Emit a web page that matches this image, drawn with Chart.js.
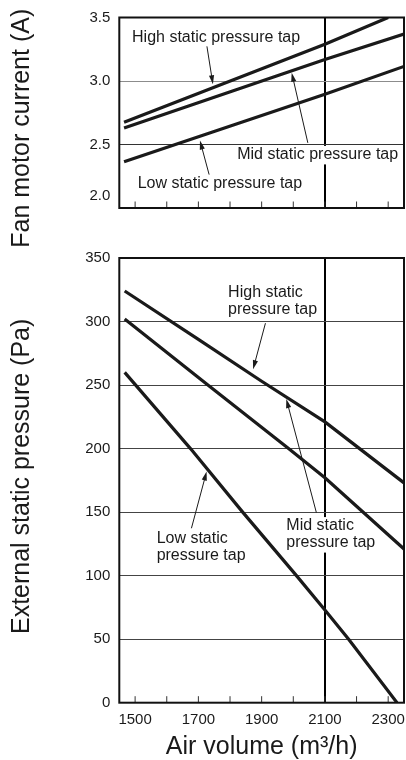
<!DOCTYPE html>
<html>
<head>
<meta charset="utf-8">
<script src="https://cdn.jsdelivr.net/npm/chart.js@4.4.1/dist/chart.umd.min.js"></script>
<style>
  html, body { margin: 0; padding: 0; background: #fff; }
  #wrap { position: relative; width: 406px; height: 760px; }
  #topBox { position: absolute; left: 0; top: 0; width: 406px; height: 252px; }
  #bottomBox { position: absolute; left: 0; top: 252px; width: 406px; height: 508px; }
</style>
</head>
<body>
<div id="wrap">
  <div id="topBox"><canvas id="currentChart"></canvas></div>
  <div id="bottomBox"><canvas id="pressureChart"></canvas></div>
</div>
<script>
// Datos
const airTicks = [1500, 1600, 1700, 1800, 1900, 2000, 2100, 2200, 2300];
const airLabels = ['1500', '', '1700', '', '1900', '', '2100', '', '2300'];
const currentTicks = [2.0, 2.5, 3.0, 3.5];
const pressureTicks = [0, 50, 100, 150, 200, 250, 300, 350];

// Corriente del motor (A)
const currentHighX = [1465, 2100, 2300];
const currentHighY = [2.675, 3.29, 3.5];
const currentMidX = [1465, 2100, 2350];
const currentMidY = [2.63, 3.17, 3.37];
const currentLowX = [1465, 2100, 2350];
const currentLowY = [2.365, 2.895, 3.115];

// Presión estática externa (Pa)
const pressHighX = [1467, 1700, 1900, 2100, 2350];
const pressHighY = [324, 286, 253, 221, 173];
const pressMidX = [1467, 1730, 1985, 2100, 2350];
const pressMidY = [302, 250, 200, 177, 121];
const pressLowX = [1467, 1675, 1840, 2010, 2100, 2175, 2328];
const pressLowY = [260, 200, 150, 100, 73, 50, 0];

const FONT = "'Liberation Sans', Arial, Helvetica, sans-serif";
const INK = '#1a1a1a';

function pts(xs, ys) {
    return xs.map((x, i) => ({x: x, y: ys[i]}));
}

function lineSet(xs, ys) {
    return {
        data: pts(xs, ys),
        borderColor: INK,
        borderWidth: 3.2,
        pointRadius: 0,
        tension: 0,
        fill: false
    };
}

// Marco, marcas internas del eje X y título Y
const framePlugin = {
    id: 'frame',
    beforeDatasetsDraw(chart, args, opts) {
        const {ctx, chartArea: a, scales: {x}} = chart;
        ctx.save();
        ctx.strokeStyle = '#333';
        ctx.lineWidth = 1;
        airTicks.forEach(v => {
            const px = x.getPixelForValue(v);
            ctx.beginPath();
            ctx.moveTo(px, a.bottom);
            ctx.lineTo(px, a.bottom - 6.5);
            ctx.stroke();
        });
        // título del eje Y
        ctx.fillStyle = INK;
        ctx.font = '25px ' + FONT;
        ctx.textAlign = 'center';
        ctx.textBaseline = 'middle';
        ctx.translate(22, (a.top + a.bottom) / 2 + opts.titleShift);
        ctx.rotate(-Math.PI / 2);
        ctx.fillText(opts.title, 0, 0);
        ctx.restore();
    },
    afterDatasetsDraw(chart) {
        const {ctx, chartArea: a} = chart;
        ctx.save();
        ctx.strokeStyle = '#111';
        ctx.lineWidth = 2;
        ctx.strokeRect(a.left, a.top, a.right - a.left, a.bottom - a.top);
        ctx.restore();
    }
};

// Etiquetas y flechas
const notesPlugin = {
    id: 'notes',
    beforeDatasetsDraw(chart, args, opts) {
        const {ctx, scales: {x, y}} = chart;
        ctx.save();
        ctx.font = '16px ' + FONT;
        ctx.textBaseline = 'middle';
        opts.labels.forEach(n => {
            const px = x.getPixelForValue(n.x);
            const py = y.getPixelForValue(n.y);
            const widths = n.lines.map(t => ctx.measureText(t).width);
            const w = Math.max(...widths);
            const left = n.align === 'center' ? px - w / 2 : px;
            ctx.fillStyle = '#fff';
            ctx.fillRect(left - 3, py - 8.5, w + 6, (n.lines.length - 1) * 17 + 18.5);
            ctx.fillStyle = INK;
            ctx.textAlign = 'left';
            n.lines.forEach((t, i) => {
                const lx = n.align === 'center' ? px - widths[i] / 2 : px;
                ctx.fillText(t, lx, py + i * 17);
            });
        });
        ctx.restore();
    },
    afterDatasetsDraw(chart, args, opts) {
        const {ctx, scales: {x, y}} = chart;
        ctx.save();
        ctx.strokeStyle = INK;
        ctx.fillStyle = INK;
        ctx.lineWidth = 1;
        opts.arrows.forEach(ar => {
            const fx = x.getPixelForValue(ar.from[0]), fy = y.getPixelForValue(ar.from[1]);
            const tx = x.getPixelForValue(ar.to[0]), ty = y.getPixelForValue(ar.to[1]);
            const ang = Math.atan2(ty - fy, tx - fx);
            ctx.beginPath();
            ctx.moveTo(fx, fy);
            ctx.lineTo(tx - Math.cos(ang) * 6, ty - Math.sin(ang) * 6);
            ctx.stroke();
            ctx.beginPath();
            ctx.moveTo(tx, ty);
            ctx.lineTo(tx - Math.cos(ang) * 9 + Math.sin(ang) * 2.6, ty - Math.sin(ang) * 9 - Math.cos(ang) * 2.6);
            ctx.lineTo(tx - Math.cos(ang) * 9 - Math.sin(ang) * 2.6, ty - Math.sin(ang) * 9 + Math.cos(ang) * 2.6);
            ctx.closePath();
            ctx.fill();
        });
        ctx.restore();
    }
};

function xAxis(showLabels) {
    return {
        type: 'linear',
        min: 1450,
        max: 2350,
        afterBuildTicks: s => { s.ticks = airTicks.map(v => ({value: v})); },
        ticks: {
            display: showLabels,
            padding: 8,
            color: INK,
            maxRotation: 0,
            autoSkip: false,
            font: {family: FONT, size: 15},
            callback: (v, i) => airLabels[i]
        },
        grid: {
            color: c => (c.tick && c.tick.value === 2100) ? '#000' : 'rgba(0,0,0,0)',
            lineWidth: 2,
            drawTicks: false
        },
        border: {display: false},
        title: {
            display: showLabels,
            text: 'Air volume (m³/h)',
            color: INK,
            font: {family: FONT, size: 25, lineHeight: 1},
            padding: 0
        },
        afterFit: s => {
            s.height = showLabels ? 57.3 : 0;
            s.paddingLeft = 0;
            s.paddingRight = 0;
        }
    };
}

function yAxis(min, max, tickValues, extra) {
    return Object.assign({
        min: min,
        max: max,
        afterBuildTicks: s => { s.ticks = tickValues.map(v => ({value: v})); },
        border: {display: false},
        afterFit: s => {
            s.width = 119.3;
            s.paddingTop = 0;
            s.paddingBottom = 0;
        }
    }, extra);
}

// Gráfico superior: corriente
new Chart(document.getElementById('currentChart'), {
    type: 'line',
    data: {
        datasets: [
            lineSet(currentHighX, currentHighY),
            lineSet(currentMidX, currentMidY),
            lineSet(currentLowX, currentLowY)
        ]
    },
    options: {
        responsive: true,
        maintainAspectRatio: false,
        animation: false,
        layout: {padding: {top: 17.5, right: 2, bottom: 44, left: 0}},
        scales: {
            x: xAxis(false),
            y: yAxis(2.0, 3.5, currentTicks, {
                ticks: {
                    padding: 9,
                    color: INK,
                    font: {family: FONT, size: 15, lineHeight: 1.6},
                    callback: v => v === 2 ? ['2.0', ''] : v.toFixed(1)
                },
                grid: {
                    color: c => (c.tick && c.tick.value === 3) ? '#8c8c8c' : '#333',
                    lineWidth: 1,
                    drawTicks: false
                }
            })
        },
        plugins: {
            legend: {display: false},
            tooltip: {enabled: false},
            frame: {title: 'Fan motor current (A)', titleShift: 15.5},
            notes: {
                labels: [
                    {lines: ['High static pressure tap'], x: 1756, y: 3.341, align: 'center'},
                    {lines: ['Mid static pressure tap'], x: 2077, y: 2.422, align: 'center'},
                    {lines: ['Low static pressure tap'], x: 1768, y: 2.193, align: 'center'}
                ],
                arrows: [
                    {from: [1727, 3.273], to: [1746, 2.974]},
                    {from: [2046, 2.513], to: [1995, 3.065]},
                    {from: [1734, 2.263], to: [1705, 2.531]}
                ]
            }
        }
    },
    plugins: [framePlugin, notesPlugin]
});

// Gráfico inferior: presión estática
new Chart(document.getElementById('pressureChart'), {
    type: 'line',
    data: {
        datasets: [
            lineSet(pressHighX, pressHighY),
            lineSet(pressMidX, pressMidY),
            lineSet(pressLowX, pressLowY)
        ]
    },
    options: {
        responsive: true,
        maintainAspectRatio: false,
        animation: false,
        layout: {padding: {top: 6, right: 2, bottom: 0, left: 0}},
        scales: {
            x: xAxis(true),
            y: yAxis(0, 350, pressureTicks, {
                ticks: {
                    padding: 9,
                    color: INK,
                    font: {family: FONT, size: 15}
                },
                grid: {
                    color: '#444',
                    lineWidth: 1,
                    drawTicks: false
                }
            })
        },
        plugins: {
            legend: {display: false},
            tooltip: {enabled: false},
            frame: {title: 'External static pressure (Pa)', titleShift: -4},
            notes: {
                labels: [
                    {lines: ['High static', 'pressure tap'], x: 1794, y: 322.4, align: 'left'},
                    {lines: ['Mid static', 'pressure tap'], x: 1978, y: 139.4, align: 'left'},
                    {lines: ['Low static', 'pressure tap'], x: 1568, y: 128.9, align: 'left'}
                ],
                arrows: [
                    {from: [1912, 298.7], to: [1873, 262.5]},
                    {from: [2073, 149.6], to: [1978, 239]},
                    {from: [1678, 137.3], to: [1726, 181.9]}
                ]
            }
        }
    },
    plugins: [framePlugin, notesPlugin]
});
</script>
</body>
</html>
